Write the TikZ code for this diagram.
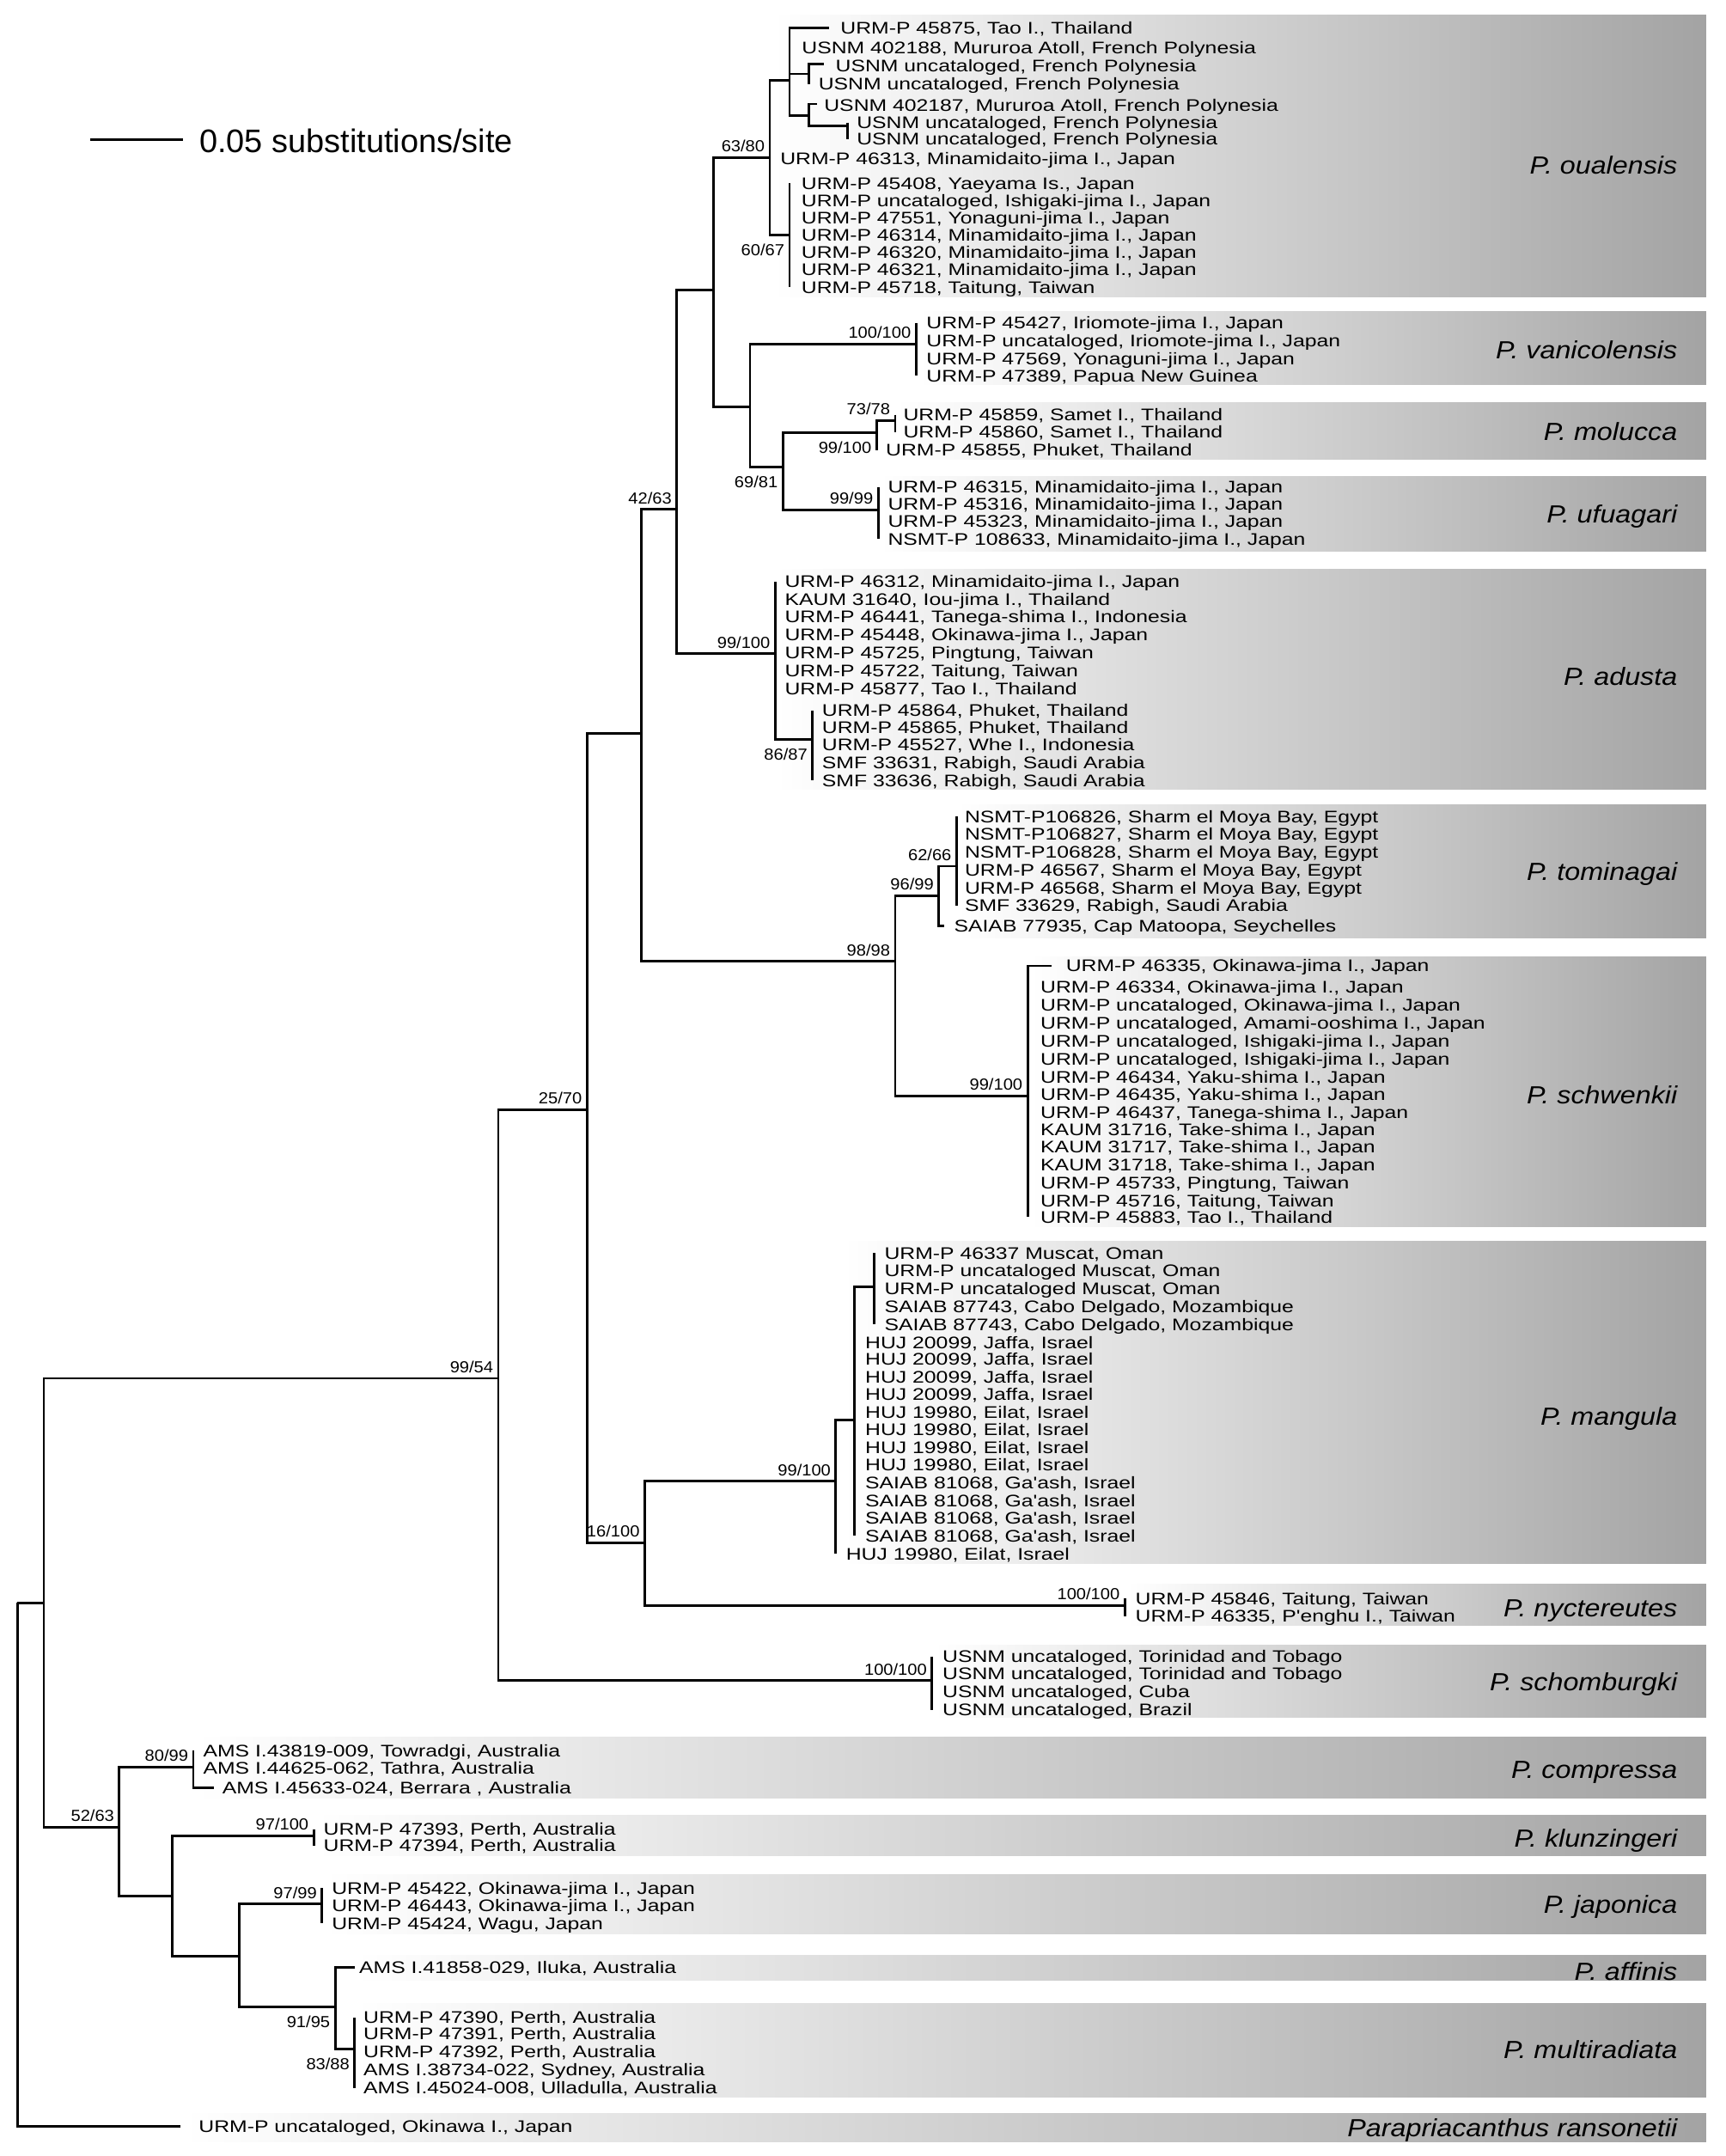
\documentclass[tikz,border=0pt]{standalone}
\usepackage{fontspec}
\setmainfont{Liberation Sans}
\newfontfamily\tipfont[FakeStretch=1.27]{Liberation Sans}
\newfontfamily\supfont[FakeStretch=1.08]{Liberation Sans}
\newfontfamily\spfont[FakeStretch=1.12]{Liberation Sans}

\begin{document}
\begin{tikzpicture}[x=0.016cm, y=-0.016cm,
  br/.style={line width=0.8pt},
  tip/.style={anchor=west, inner sep=0pt, text height=3.97pt, text depth=0pt, font=\tipfont\fontsize{5.55}{6.5}\selectfont},
  sup/.style={inner sep=0pt, text height=3.8pt, text depth=0pt, font=\supfont\fontsize{5.3}{6}\selectfont},
  supa/.style={sup, anchor=south east, xshift=-1.5pt, yshift=1.7pt},
  supb/.style={sup, anchor=north east, xshift=-1.5pt, yshift=-2.8pt},
  sp/.style={anchor=east, inner sep=0pt, text height=5.87pt, text depth=0pt, font=\spfont\itshape\fontsize{8.2}{10}\selectfont},
  box/.style={left color=white, right color=black!36}]

\useasboundingbox (0,0) rectangle (1255,1568);

\foreach \l/\t/\b in {563/11.1/216, 669/226.7/279.9, 652/293/334.1, 640/346.3/401, 565/414/573.9, 697/585/681.9, 750/695.9/892.4, 614/903/1137.2, 820/1152/1182, 680/1196.4/1249, 142/1263.2/1307.4, 230/1320/1349.5, 236/1363.2/1406.7, 258/1421.9/1440, 258/1457.2/1525.2, 133/1536.8/1557.4}
  \shade[box] (\l,\t) rectangle (1241,\b);

\foreach \y/\n [count=\i] in {120.2/P. oualensis, 254.3/P. vanicolensis, 313.8/P. molucca, 373.9/P. ufuagari, 492/P. adusta, 634/P. tominagai, 796/P. schwenkii, 1030/P. mangula, 1169.4/P. nyctereutes, 1223/P. schomburgki, 1287/P. compressa, 1336.9/P. klunzingeri, 1385.3/P. japonica, 1490.5/P. multiradiata, 1547.3/Parapriacanthus ransonetii}
  \node[sp] (sp-\i) at (1220.5,\y) {\n};
\begin{scope}
  \clip (258,1421.9) rectangle (1241,1440);
  \node[sp] (sp-af) at (1220.5,1434) {P. affinis};
\end{scope}

\coordinate (bar-l) at (65.6,101.5);
\coordinate (bar-r) at (133.1,101.5);
\draw[br] (bar-l) -- (bar-r);
\node[anchor=west, inner sep=0pt, text height=7.75pt, text depth=0pt, font=\fontsize{10.8}{12}\selectfont] (bar) at (144.6,102.5) {0.05 substitutions/site};

\coordinate (root) at (12.7,1165.7);
\coordinate (nB) at (31.9,1165.7);
\coordinate (n9954) at (362.5,1002.4);
\coordinate (n2570) at (427,807.2);
\coordinate (n466) at (466.4,533.5);
\coordinate (n4263) at (492.3,370.5);
\coordinate (nA) at (518.8,210.8);
\coordinate (ou) at (560,114.7);
\coordinate (ouU) at (574.3,58.3);
\coordinate (ouU1) at (588.3,53.7);
\coordinate (ouU2) at (588.3,84.3);
\coordinate (ouU3) at (616.7,91.6);
\coordinate (ouL) at (574.3,171.1);
\coordinate (nV) at (545.6,295.7);
\coordinate (va) at (666.3,250.2);
\coordinate (nM) at (569.5,339.9);
\coordinate (mo) at (637.6,314.8);
\coordinate (mo1) at (651.2,305.7);
\coordinate (uf) at (638.8,371);
\coordinate (ad) at (563.9,475.5);
\coordinate (ad1) at (591,538);
\coordinate (n9898) at (651.2,699.2);
\coordinate (to) at (682.9,651.4);
\coordinate (to1) at (695.8,630);
\coordinate (sw) at (747.5,797);
\coordinate (n16100) at (469,1122);
\coordinate (ma) at (608,1077.3);
\coordinate (ma1) at (621.7,1032.8);
\coordinate (ma2) at (635.8,935.7);
\coordinate (ny) at (818.2,1167.6);
\coordinate (sc) at (677.9,1222.2);
\coordinate (n5263) at (86.8,1329);
\coordinate (co) at (140.6,1285.2);
\coordinate (nK) at (125.5,1378.8);
\coordinate (kl) at (228.2,1335);
\coordinate (nJ) at (174,1422.6);
\coordinate (ja) at (234.2,1384.8);
\coordinate (nMu) at (243.8,1459.7);
\coordinate (mu) at (258,1490.3);
\coordinate (e-ou1) at (602.8,20.2);
\coordinate (e-ou3) at (599.3,46.8);
\coordinate (e-ou5) at (594.5,75.6);
\coordinate (e-to7) at (686.5,673.5);
\coordinate (e-sw1) at (764.9,702.4);
\coordinate (e-co3) at (155.3,1300.3);
\coordinate (e-af) at (258,1430.6);
\coordinate (e-pr) at (131.4,1546.5);

\foreach \a/\b in {root/nB, root/e-pr, nB/n9954, nB/n5263, n9954/n2570, n9954/sc, n2570/n466, n2570/n16100, n466/n4263, n466/n9898, n4263/nA, n4263/ad, nA/ou, nA/nV, ou/ouU, ou/ouL, ouU/e-ou1, ouU/ouU1, ouU/ouU2, ouU1/e-ou3, ouU2/e-ou5, ouU2/ouU3, nV/va, nV/nM, nM/mo, nM/uf, mo/mo1, ad/ad1, n9898/to, n9898/sw, to/to1, to/e-to7, sw/e-sw1, n16100/ma, n16100/ny, ma/ma1, ma1/ma2, n5263/co, n5263/nK, co/e-co3, nK/kl, nK/nJ, nJ/ja, nJ/nMu, nMu/e-af, nMu/mu}
  \draw[br] (\a) |- (\b);

\node[tip] (ou-1) at (611,20.2) {URM-P 45875, Tao I., Thailand};
\node[tip] (ou-2) at (582.9,34.8) {USNM 402188, Mururoa Atoll, French Polynesia};
\node[tip] (ou-3) at (607.4,47.9) {USNM uncataloged, French Polynesia};
\node[tip] (ou-4) at (595,61) {USNM uncataloged, French Polynesia};
\node[tip] (ou-5) at (599.1,76.4) {USNM 402187, Mururoa Atoll, French Polynesia};
\node[tip] (ou-6) at (622.8,89.1) {USNM uncataloged, French Polynesia};
\node[tip] (ou-7) at (622.8,101) {USNM uncataloged, French Polynesia};
\node[tip] (ou-8) at (567.2,115.1) {URM-P 46313, Minamidaito-jima I., Japan};
\draw[br] (ouU1) -- (ouU1 |- ou-4);
\draw[br] (ouU3 |- ou-6) -- (ouU3 |- ou-7);

\foreach \y/\t [count=\i] in {133.2/{URM-P 45408, Yaeyama Is., Japan}, 145.7/{URM-P uncataloged, Ishigaki-jima I., Japan}, 158.6/{URM-P 47551, Yonaguni-jima I., Japan}, 171.1/{URM-P 46314, Minamidaito-jima I., Japan}, 183.6/{URM-P 46320, Minamidaito-jima I., Japan}, 196.1/{URM-P 46321, Minamidaito-jima I., Japan}, 208.8/{URM-P 45718, Taitung, Taiwan}}
  \node[tip] (oul-\i) at (582.6,\y) {\t};
\draw[br] (ouL |- oul-1) -- (ouL |- oul-7);

\foreach \y/\t [count=\i] in {234.7/{URM-P 45427, Iriomote-jima I., Japan}, 247.9/{URM-P uncataloged, Iriomote-jima I., Japan}, 261/{URM-P 47569, Yonaguni-jima I., Japan}, 273.4/{URM-P 47389, Papua New Guinea}}
  \node[tip] (va-\i) at (673.5,\y) {\t};
\draw[br] (va |- va-1) -- (va |- va-4);

\node[tip] (mo-1) at (656.7,301.6) {URM-P 45859, Samet I., Thailand};
\node[tip] (mo-2) at (656.7,314.1) {URM-P 45860, Samet I., Thailand};
\node[tip] (mo-3) at (644,327.4) {URM-P 45855, Phuket, Thailand};
\draw[br] (mo1 |- mo-1) -- (mo1 |- mo-2);
\draw[br] (mo) -- (mo |- mo-3);

\foreach \y/\t [count=\i] in {354.2/{URM-P 46315, Minamidaito-jima I., Japan}, 366.6/{URM-P 45316, Minamidaito-jima I., Japan}, 379.3/{URM-P 45323, Minamidaito-jima I., Japan}, 392/{NSMT-P 108633, Minamidaito-jima I., Japan}}
  \node[tip] (uf-\i) at (645.5,\y) {\t};
\draw[br] (uf |- uf-1) -- (uf |- uf-4);

\foreach \y/\t [count=\i] in {423/{URM-P 46312, Minamidaito-jima I., Japan}, 435.8/{KAUM 31640, Iou-jima I., Thailand}, 448.6/{URM-P 46441, Tanega-shima I., Indonesia}, 461.4/{URM-P 45448, Okinawa-jima I., Japan}, 474.8/{URM-P 45725, Pingtung, Taiwan}, 487.5/{URM-P 45722, Taitung, Taiwan}, 500.6/{URM-P 45877, Tao I., Thailand}}
  \node[tip] (ad-\i) at (570.5,\y) {\t};
\draw[br] (ad |- ad-1) -- (ad |- ad-7);
\foreach \y/\t [count=\i] in {516.6/{URM-P 45864, Phuket, Thailand}, 529/{URM-P 45865, Phuket, Thailand}, 541.8/{URM-P 45527, Whe I., Indonesia}, 554.9/{SMF 33631, Rabigh, Saudi Arabia}, 567.7/{SMF 33636, Rabigh, Saudi Arabia}}
  \node[tip] (adb-\i) at (597.6,\y) {\t};
\draw[br] (ad1 |- adb-1) -- (ad1 |- adb-5);

\foreach \y/\t [count=\i] in {593.9/{NSMT-P106826, Sharm el Moya Bay, Egypt}, 606.6/{NSMT-P106827, Sharm el Moya Bay, Egypt}, 619.4/{NSMT-P106828, Sharm el Moya Bay, Egypt}, 632.8/{URM-P 46567, Sharm el Moya Bay, Egypt}, 645.6/{URM-P 46568, Sharm el Moya Bay, Egypt}, 658.7/{SMF 33629, Rabigh, Saudi Arabia}}
  \node[tip] (to-\i) at (701.4,\y) {\t};
\draw[br] (to1 |- to-1) -- (to1 |- to-6);
\node[tip] (to-7) at (693.6,673.5) {SAIAB 77935, Cap Matoopa, Seychelles};

\node[tip] (sw-1) at (775,702.4) {URM-P 46335, Okinawa-jima I., Japan};
\foreach \y/\t [count=\i from 2] in {717.8/{URM-P 46334, Okinawa-jima I., Japan}, 731.2/{URM-P uncataloged, Okinawa-jima I., Japan}, 744/{URM-P uncataloged, Amami-ooshima I., Japan}, 757.4/{URM-P uncataloged, Ishigaki-jima I., Japan}, 770.1/{URM-P uncataloged, Ishigaki-jima I., Japan}, 783.2/{URM-P 46434, Yaku-shima I., Japan}, 796/{URM-P 46435, Yaku-shima I., Japan}, 808.8/{URM-P 46437, Tanega-shima I., Japan}, 821.5/{KAUM 31716, Take-shima I., Japan}, 834.3/{KAUM 31717, Take-shima I., Japan}, 847.1/{KAUM 31718, Take-shima I., Japan}, 860.5/{URM-P 45733, Pingtung, Taiwan}, 873.3/{URM-P 45716, Taitung, Taiwan}, 885/{URM-P 45883, Tao I., Thailand}}
  \node[tip] (sw-\i) at (756.5,\y) {\t};
\draw[br] (sw |- sw-2) -- (sw |- sw-15);

\foreach \y/\t [count=\i] in {911.4/{URM-P 46337 Muscat, Oman}, 924.2/{URM-P uncataloged Muscat, Oman}, 936.9/{URM-P uncataloged Muscat, Oman}, 950/{SAIAB 87743, Cabo Delgado, Mozambique}, 963.1/{SAIAB 87743, Cabo Delgado, Mozambique}}
  \node[tip] (mc-\i) at (643,\y) {\t};
\draw[br] (ma2 |- mc-1) -- (ma2 |- mc-5);
\foreach \y/\t [count=\i] in {976.2/{HUJ 20099, Jaffa, Israel}, 988.6/{HUJ 20099, Jaffa, Israel}, 1001.3/{HUJ 20099, Jaffa, Israel}, 1013.9/{HUJ 20099, Jaffa, Israel}, 1027/{HUJ 19980, Eilat, Israel}, 1039.4/{HUJ 19980, Eilat, Israel}, 1052.6/{HUJ 19980, Eilat, Israel}, 1065.2/{HUJ 19980, Eilat, Israel}, 1078.3/{SAIAB 81068, Ga'ash, Israel}, 1091.2/{SAIAB 81068, Ga'ash, Israel}, 1103.8/{SAIAB 81068, Ga'ash, Israel}, 1117/{SAIAB 81068, Ga'ash, Israel}}
  \node[tip] (mb-\i) at (629,\y) {\t};
\draw[br] (ma1 |- mb-1) -- (ma1 |- mb-12);
\node[tip] (ma-1) at (615,1130) {HUJ 19980, Eilat, Israel};
\draw[br] (ma) -- (ma |- ma-1);

\node[tip] (ny-1) at (825.5,1162.7) {URM-P 45846, Taitung, Taiwan};
\node[tip] (ny-2) at (825.5,1175.4) {URM-P 46335, P'enghu I., Taiwan};
\draw[br] (ny |- ny-1) -- (ny |- ny-2);

\foreach \y/\t [count=\i] in {1204.7/{USNM uncataloged, Torinidad and Tobago}, 1217.1/{USNM uncataloged, Torinidad and Tobago}, 1230.2/{USNM uncataloged, Cuba}, 1243.4/{USNM uncataloged, Brazil}}
  \node[tip] (sc-\i) at (685.2,\y) {\t};
\draw[br] (sc |- sc-1) -- (sc |- sc-4);

\node[tip] (co-1) at (147.4,1273.3) {AMS I.43819-009, Towradgi, Australia};
\node[tip] (co-2) at (147.4,1286) {AMS I.44625-062, Tathra, Australia};
\node[tip] (co-3) at (161.3,1300.3) {AMS I.45633-024, Berrara , Australia};
\draw[br] (co |- co-1) -- (co |- co-2);

\node[tip] (kl-1) at (235,1330.2) {URM-P 47393, Perth, Australia};
\node[tip] (kl-2) at (235,1342.2) {URM-P 47394, Perth, Australia};
\draw[br] (kl |- kl-1) -- (kl |- kl-2);

\foreach \y/\t [count=\i] in {1373.3/{URM-P 45422, Okinawa-jima I., Japan}, 1386/{URM-P 46443, Okinawa-jima I., Japan}, 1398.7/{URM-P 45424, Wagu, Japan}}
  \node[tip] (ja-\i) at (241,\y) {\t};
\draw[br] (ja |- ja-1) -- (ja |- ja-3);

\node[tip] (af-1) at (260.9,1430.6) {AMS I.41858-029, Iluka, Australia};

\foreach \y/\t [count=\i] in {1467.3/{URM-P 47390, Perth, Australia}, 1479.2/{URM-P 47391, Perth, Australia}, 1492.3/{URM-P 47392, Perth, Australia}, 1505.5/{AMS I.38734-022, Sydney, Australia}, 1518.6/{AMS I.45024-008, Ulladulla, Australia}}
  \node[tip] (mu-\i) at (264,\y) {\t};
\draw[br] (mu |- mu-1) -- (mu |- mu-5);

\node[tip] (pr-1) at (144.2,1546.5) {URM-P uncataloged, Okinawa I., Japan};

\node[supa] (l-ou) at (ou) {63/80};
\node[supb] (l-ouL) at (ouL) {60/67};
\node[supa] (l-va) at (va) {100/100};
\node[supb] (l-nM) at (nM) {69/81};
\node[supb] (l-mo) at (mo) {99/100};
\node[supa] (l-mo1) at (mo1) {73/78};
\node[supa] (l-uf) at (uf) {99/99};
\node[supa] (l-n4263) at (n4263) {42/63};
\node[supa] (l-ad) at (ad) {99/100};
\node[supb] (l-ad1) at (ad1) {86/87};
\node[supa] (l-n9898) at (n9898) {98/98};
\node[supa] (l-to) at (to) {96/99};
\node[supa] (l-to1) at (to1) {62/66};
\node[supa] (l-sw) at (sw) {99/100};
\node[supa] (l-n2570) at (n2570) {25/70};
\node[supa] (l-n16100) at (n16100) {16/100};
\node[supa] (l-ma) at (ma) {99/100};
\node[supa] (l-ny) at (ny) {100/100};
\node[supa] (l-sc) at (sc) {100/100};
\node[supa] (l-n9954) at (n9954) {99/54};
\node[supa] (l-n5263) at (n5263) {52/63};
\node[supa] (l-co) at (co) {80/99};
\node[supa] (l-kl) at (kl) {97/100};
\node[supa] (l-ja) at (ja) {97/99};
\node[supb] (l-nMu) at (nMu) {91/95};
\node[supb] (l-mu) at (mu) {83/88};
\end{tikzpicture}
\end{document}
